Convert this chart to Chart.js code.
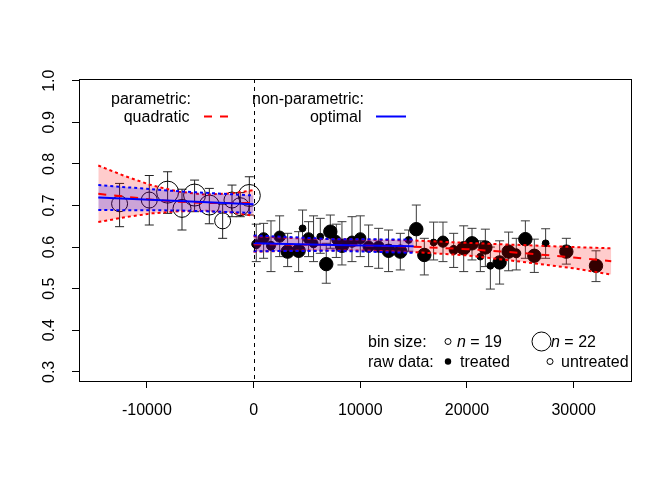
<!DOCTYPE html>
<html>
<head>
<meta charset="utf-8">
<script src="https://cdn.jsdelivr.net/npm/chart.js@4.4.1/dist/chart.umd.min.js"></script>
<style>
  html, body { margin: 0; padding: 0; background: #fff; }
  canvas { display: block; }
</style>
</head>
<body>
<canvas id="rdPlot" width="672" height="480"></canvas>
<script>
// binned means left of the cutoff (untreated)
const leftX  = [-12560, -9775, -8060, -6710, -5530, -4150, -2900, -2025, -1250, -400];
const leftY  = [0.704, 0.713, 0.732, 0.693, 0.725, 0.701, 0.663, 0.713, 0.697, 0.724];
const leftHi = [0.753, 0.772, 0.781, 0.739, 0.761, 0.741, 0.703, 0.749, 0.731, 0.769];
const leftLo = [0.649, 0.653, 0.681, 0.641, 0.685, 0.656, 0.621, 0.673, 0.673, 0.677];
const leftN  = [19, 19, 22, 20, 22, 21, 19, 19, 20, 22];

// binned means right of the cutoff (treated)
const rightX  = [250, 938, 1630, 2440, 3190, 4220, 4590, 5150, 5620, 6250,
                 6810, 7190, 7750, 8280, 9220, 10000, 10780, 11720, 12650, 13750,
                 14530, 15250, 16000, 16870, 17750, 18750, 19690, 20470, 21250, 21720,
                 22190, 23060, 23900, 24620, 25470, 26310, 27370, 29310, 32090];
const rightY  = [0.607, 0.621, 0.603, 0.625, 0.589, 0.591, 0.645, 0.621, 0.609, 0.625,
                 0.559, 0.637, 0.617, 0.603, 0.613, 0.621, 0.601, 0.601, 0.591, 0.589,
                 0.617, 0.643, 0.581, 0.611, 0.613, 0.593, 0.597, 0.609, 0.577, 0.599,
                 0.555, 0.563, 0.589, 0.585, 0.619, 0.579, 0.609, 0.589, 0.555];
const rightHi = [0.655, 0.657, 0.663, 0.675, 0.633, 0.637, 0.689, 0.661, 0.675, 0.669,
                 0.609, 0.677, 0.655, 0.661, 0.673, 0.675, 0.653, 0.645, 0.641, 0.633,
                 0.641, 0.701, 0.621, 0.660, 0.660, 0.633, 0.651, 0.645, 0.615, 0.643,
                 0.600, 0.615, 0.636, 0.621, 0.663, 0.619, 0.644, 0.621, 0.591];
const rightLo = [0.565, 0.573, 0.541, 0.577, 0.553, 0.541, 0.605, 0.577, 0.565, 0.585,
                 0.513, 0.597, 0.575, 0.557, 0.565, 0.577, 0.553, 0.549, 0.541, 0.545,
                 0.590, 0.601, 0.533, 0.569, 0.565, 0.551, 0.541, 0.569, 0.541, 0.553,
                 0.499, 0.511, 0.543, 0.545, 0.573, 0.539, 0.573, 0.559, 0.517];
const rightN  = [20, 21, 20, 21, 22, 22, 19, 21, 20, 19,
                 22, 22, 20, 22, 21, 21, 21, 21, 22, 22,
                 19, 22, 22, 19, 21, 20, 22, 22, 19, 22,
                 19, 22, 22, 20, 22, 22, 19, 22, 22];

// parametric (quadratic) fit with confidence band
const quadLeftX  = [-14555, -12000, -9500, -7000, -4500, -2000, 0];
const quadLeftY  = [0.728, 0.721, 0.714, 0.709, 0.706, 0.706, 0.706];
const quadLeftHi = [0.796, 0.770, 0.748, 0.733, 0.726, 0.729, 0.737];
const quadLeftLo = [0.660, 0.672, 0.681, 0.686, 0.687, 0.683, 0.675];
const quadRightX  = [0, 5000, 10000, 15000, 20000, 25000, 30000, 33520];
const quadRightY  = [0.607, 0.606, 0.604, 0.601, 0.595, 0.586, 0.575, 0.566];
const quadRightHi = [0.626, 0.620, 0.618, 0.616, 0.610, 0.605, 0.600, 0.597];
const quadRightLo = [0.589, 0.592, 0.592, 0.588, 0.580, 0.565, 0.549, 0.534];

// non-parametric (optimal bandwidth) fit with confidence band
const npLeftX  = [-14555, -7000, 0];
const npLeftY  = [0.719, 0.711, 0.703];
const npLeftHi = [0.749, 0.734, 0.724];
const npLeftLo = [0.689, 0.688, 0.682];
const npRightX  = [0, 7500, 15000];
const npRightY  = [0.609, 0.605, 0.602];
const npRightHi = [0.628, 0.619, 0.618];
const npRightLo = [0.590, 0.591, 0.586];

const cutoff = 0;
const xTicks = [-10000, 0, 10000, 20000, 30000];
const yTicks = [0.3, 0.4, 0.5, 0.6, 0.7, 0.8, 0.9, 1.0];

const RED = '#ff0000', BLUE = '#0000ff';
const FONT = "'Liberation Sans', Arial, Helvetica, sans-serif";

const pts = (xs, ys) => xs.map((x, i) => ({ x: x, y: ys[i] }));
const openR = n => 8 + (n - 19);
const dotR  = n => 3.4 + (n - 19) * 1.1;

function bandLine(xs, ys, color, fillColor) {
  return {
    type: 'line', data: pts(xs, ys), borderColor: color, borderWidth: 2,
    borderDash: [3, 3], pointRadius: 0, tension: 0,
    fill: fillColor ? '-1' : false, backgroundColor: fillColor || 'transparent'
  };
}
function fitLine(xs, ys, color, dash, order) {
  return {
    type: 'line', data: pts(xs, ys), borderColor: color, borderWidth: 2,
    borderDash: dash, pointRadius: 0, tension: 0, fill: false, order: order
  };
}

const datasets = [
  Object.assign(bandLine(quadLeftX, quadLeftHi, RED), { order: 8 }),
  Object.assign(bandLine(quadLeftX, quadLeftLo, RED, 'rgba(255,0,0,0.2)'), { order: 8 }),
  Object.assign(bandLine(quadRightX, quadRightHi, RED), { order: 8 }),
  Object.assign(bandLine(quadRightX, quadRightLo, RED, 'rgba(255,0,0,0.2)'), { order: 8 }),
  Object.assign(bandLine(npLeftX, npLeftHi, BLUE), { order: 6 }),
  Object.assign(bandLine(npLeftX, npLeftLo, BLUE, 'rgba(0,0,255,0.2)'), { order: 6 }),
  Object.assign(bandLine(npRightX, npRightHi, BLUE), { order: 6 }),
  Object.assign(bandLine(npRightX, npRightLo, BLUE, 'rgba(0,0,255,0.2)'), { order: 6 }),
  fitLine(quadLeftX, quadLeftY, RED, [8, 8], 4),
  fitLine(quadRightX, quadRightY, RED, [8, 8], 4),
  fitLine(npLeftX, npLeftY, BLUE, [], 2),
  fitLine(npRightX, npRightY, BLUE, [], 2),
  {
    type: 'bubble', order: 10,
    data: leftX.map((x, i) => ({ x: x, y: leftY[i], r: openR(leftN[i]) })),
    backgroundColor: 'rgba(0,0,0,0)', borderColor: '#000', borderWidth: 1
  },
  {
    type: 'bubble', order: 10,
    data: rightX.map((x, i) => ({ x: x, y: rightY[i], r: dotR(rightN[i]) })),
    backgroundColor: '#000', borderColor: '#000', borderWidth: 1
  }
];

const errorBars = {
  id: 'errorBars',
  beforeDatasetsDraw(chart) {
    const { ctx, scales: { x, y } } = chart;
    const draw = (xs, his, los, color) => {
      ctx.strokeStyle = color;
      ctx.lineWidth = 1;
      xs.forEach((v, i) => {
        const px = x.getPixelForValue(v);
        const top = y.getPixelForValue(his[i]), bot = y.getPixelForValue(los[i]);
        ctx.beginPath();
        ctx.moveTo(px, top); ctx.lineTo(px, bot);
        ctx.moveTo(px - 4.5, top); ctx.lineTo(px + 4.5, top);
        ctx.moveTo(px - 4.5, bot); ctx.lineTo(px + 4.5, bot);
        ctx.stroke();
      });
    };
    ctx.save();
    draw(leftX, leftHi, leftLo, '#222');
    draw(rightX, rightHi, rightLo, '#3a3a3a');
    ctx.restore();
  }
};

const decorations = {
  id: 'decorations',
  afterDatasetsDraw(chart) {
    const { ctx, chartArea: a, scales: { x } } = chart;
    const cx = Math.round(x.getPixelForValue(cutoff)) + 0.5;
    ctx.save();
    ctx.strokeStyle = '#000';
    ctx.lineWidth = 1;
    ctx.setLineDash([4, 4]);
    ctx.beginPath();
    ctx.moveTo(cx, a.top); ctx.lineTo(cx, a.bottom);
    ctx.stroke();
    ctx.restore();
  },
  afterDraw(chart) {
    const { ctx, chartArea: a, scales: { y } } = chart;
    ctx.save();
    // plot box
    ctx.strokeStyle = '#000';
    ctx.lineWidth = 1;
    ctx.strokeRect(a.left + 0.5, a.top + 0.5, a.right - a.left - 1, a.bottom - a.top);

    // rotated y tick labels
    ctx.fillStyle = '#000';
    ctx.font = '16px ' + FONT;
    ctx.textAlign = 'center';
    ctx.textBaseline = 'middle';
    yTicks.forEach(v => {
      ctx.save();
      ctx.translate(50, y.getPixelForValue(v));
      ctx.rotate(-Math.PI / 2);
      ctx.fillText(v.toFixed(1), 0, 0);
      ctx.restore();
    });

    // top-left legend
    ctx.textBaseline = 'alphabetic';
    ctx.textAlign = 'left';
    ctx.fillText('parametric:', 111, 104);
    ctx.fillText('non-parametric:', 252, 104);
    ctx.textAlign = 'right';
    ctx.fillText('quadratic', 189.5, 121.5);
    ctx.fillText('optimal', 361.5, 121.5);
    ctx.lineWidth = 2;
    ctx.strokeStyle = RED;
    ctx.setLineDash([8, 8]);
    ctx.beginPath(); ctx.moveTo(204, 116.5); ctx.lineTo(230, 116.5); ctx.stroke();
    ctx.setLineDash([]);
    ctx.strokeStyle = BLUE;
    ctx.beginPath(); ctx.moveTo(376, 116.5); ctx.lineTo(406, 116.5); ctx.stroke();

    // bottom-right legend
    ctx.textAlign = 'left';
    ctx.fillText('bin size:', 368, 347);
    ctx.fillText('raw data:', 368, 367);
    const nLabel = (x0, base, txt) => {
      ctx.font = 'italic 16px ' + FONT;
      ctx.fillText('n', x0, base);
      const w = ctx.measureText('n').width;
      ctx.font = '16px ' + FONT;
      ctx.fillText(' = ' + txt, x0 + w, base);
    };
    nLabel(457, 347, '19');
    nLabel(551, 347, '22');
    ctx.fillText('treated', 460, 367);
    ctx.fillText('untreated', 561, 367);
    ctx.strokeStyle = '#000';
    ctx.fillStyle = '#000';
    ctx.lineWidth = 1;
    ctx.beginPath(); ctx.arc(448, 341.5, 3, 0, Math.PI * 2); ctx.stroke();
    ctx.beginPath(); ctx.arc(541.5, 341.5, 9.5, 0, Math.PI * 2); ctx.stroke();
    ctx.beginPath(); ctx.arc(448, 361.5, 3.2, 0, Math.PI * 2); ctx.fill();
    ctx.beginPath(); ctx.arc(550, 361.5, 3, 0, Math.PI * 2); ctx.stroke();
    ctx.restore();
  }
};

Chart.defaults.font.family = FONT;
Chart.defaults.font.size = 16;
Chart.defaults.color = '#000';

new Chart(document.getElementById('rdPlot').getContext('2d'), {
  type: 'line',
  data: { datasets: datasets },
  options: {
    responsive: false,
    animation: false,
    events: [],
    layout: { padding: { left: 0, top: 79, right: 40, bottom: 0 } },
    plugins: { legend: { display: false }, tooltip: { enabled: false } },
    scales: {
      x: {
        type: 'linear', min: -16363, max: 35464,
        afterBuildTicks: s => { s.ticks = xTicks.map(v => ({ value: v })); },
        afterFit: s => { s.height = 99; },
        grid: { drawOnChartArea: false, drawTicks: true, tickLength: 7, color: '#000' },
        border: { display: false },
        ticks: { callback: v => String(v), padding: 13, maxRotation: 0, autoSkip: false, color: '#000' }
      },
      y: {
        type: 'linear', min: 0.278, max: 1.004,
        afterBuildTicks: s => { s.ticks = yTicks.map(v => ({ value: v })); },
        afterFit: s => { s.width = 79; },
        grid: { drawOnChartArea: false, drawTicks: true, tickLength: 7, color: '#000' },
        border: { display: false },
        ticks: { display: false }
      }
    }
  },
  plugins: [errorBars, decorations]
});
</script>
</body>
</html>
